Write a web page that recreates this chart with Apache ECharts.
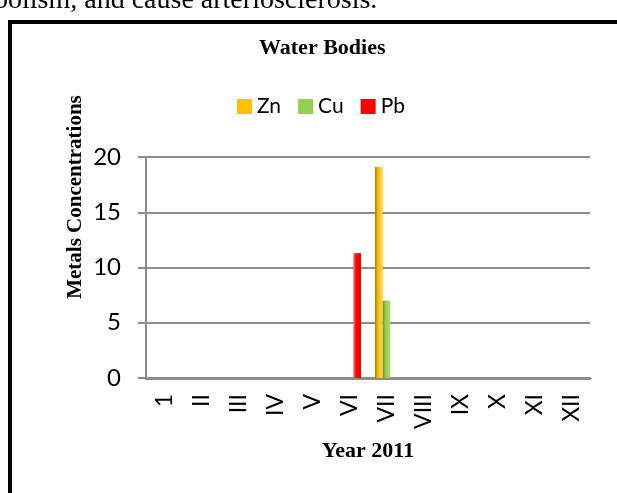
<!DOCTYPE html>
<html>
<head>
<meta charset="utf-8">
<script src="https://cdn.jsdelivr.net/npm/echarts@6/dist/echarts.min.js"></script>
<style>
  html, body { margin: 0; padding: 0; background: #fff; }
  #chart { width: 617px; height: 493px; }
</style>
</head>
<body>
<div id="chart"></div>
<script>
(function () {
    'use strict';

    var months = ['1', 'II', 'III', 'IV', 'V', 'VI', 'VII', 'VIII', 'IX', 'X', 'XI', 'XII'];
    var zn = [0, 0, 0, 0, 0, 0, 19.1, 0, 0, 0, 0, 0];
    var cu = [0, 0, 0, 0, 0, 0, 7.0, 0, 0, 0, 0, 0];
    var pb = [0, 0, 0, 0, 0, 11.3, 0, 0, 0, 0, 0, 0];
    var yTicks = { min: 0, max: 20, step: 5 };

    var serif = '"Liberation Serif", "Times New Roman", serif';
    var sans = 'Lato, "Liberation Sans", sans-serif';

    // left edge darker, like the excel bevel
    function shade(dark, mid, light) {
        return new echarts.graphic.LinearGradient(0, 0, 1, 0, [
            { offset: 0, color: dark },
            { offset: 0.4, color: mid },
            { offset: 1, color: light }
        ]);
    }

    function bar(name, data, fill) {
        return {
            name: name,
            type: 'bar',
            data: data,
            barGap: 0,
            barCategoryGap: '38%',
            itemStyle: { color: fill }
        };
    }

    var mychart = echarts.init(document.getElementById('chart'));
    mychart.setOption({
        animation: false,
        backgroundColor: '#fff',
        title: {
            text: 'Water Bodies',
            left: 254,
            top: 32,
            textStyle: { fontFamily: serif, fontWeight: 'bold', fontSize: 22, color: '#000' }
        },
        legend: {
            data: [
                { name: 'Zn', itemStyle: { color: '#FFC000' } },
                { name: 'Cu', itemStyle: { color: '#92D050' } },
                { name: 'Pb', itemStyle: { color: '#FF0000' } }
            ],
            left: 232,
            top: 91,
            itemWidth: 15,
            itemHeight: 15,
            itemGap: 17,
            icon: 'rect',
            textStyle: { fontFamily: sans, fontSize: 21, color: '#000' }
        },
        grid: { left: 146, right: 27, top: 157, bottom: 115 },
        xAxis: {
            type: 'category',
            data: months,
            name: 'Year 2011',
            nameLocation: 'middle',
            nameGap: 62,
            nameTextStyle: { fontFamily: serif, fontWeight: 'bold', fontSize: 22, color: '#000' },
            axisLine: { lineStyle: { color: '#8c8c8c', width: 3 } },
            axisTick: { show: false },
            axisLabel: {
                rotate: 90,
                margin: 16,
                interval: 0,
                fontFamily: sans,
                fontSize: 23,
                color: '#000'
            }
        },
        yAxis: {
            type: 'value',
            min: yTicks.min,
            max: yTicks.max,
            interval: yTicks.step,
            axisLine: { show: true, lineStyle: { color: '#8c8c8c', width: 2 } },
            axisTick: { show: true, length: 8, lineStyle: { color: '#8c8c8c', width: 2 } },
            axisLabel: { margin: 25, fontFamily: sans, fontSize: 24, color: '#000' },
            splitLine: { lineStyle: { color: '#8c8c8c', width: 2 } }
        },
        series: [
            bar('Zn', zn, shade('#a67c00', '#ffc000', '#ffd54f')),
            bar('Cu', cu, shade('#66982f', '#92d050', '#a8dc72')),
            bar('Pb', pb, shade('#ff7070', '#ff0000', '#e60000'))
        ],
        graphic: [
            {
                type: 'text',
                x: -6,
                y: 15,
                style: {
                    text: 'bolism, and cause arteriosclerosis.',
                    font: '28px ' + serif,
                    fill: '#000',
                    textVerticalAlign: 'bottom'
                }
            },
            {
                type: 'rect',
                shape: { x: 10, y: 22, width: 700, height: 600 },
                style: { fill: null, stroke: '#000', lineWidth: 4 }
            },
            {
                type: 'text',
                x: 76,
                y: 197,
                rotation: Math.PI / 2,
                style: {
                    text: 'Metals Concentrations',
                    font: 'bold 21px ' + serif,
                    fill: '#000',
                    textAlign: 'center',
                    textVerticalAlign: 'middle'
                }
            }
        ]
    });
})();
</script>
</body>
</html>
